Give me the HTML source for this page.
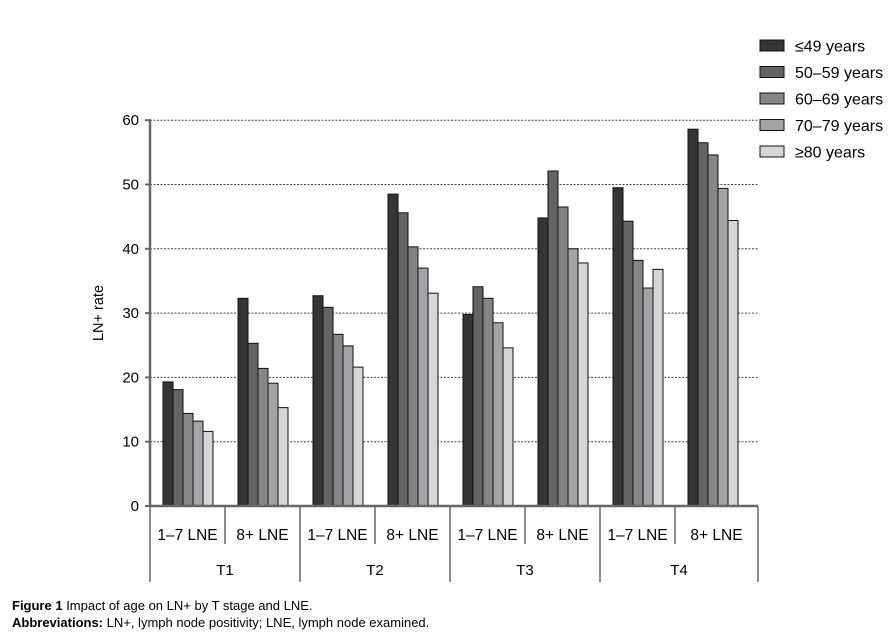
<!DOCTYPE html>
<html><head><meta charset="utf-8"><style>
body{margin:0;background:#fff;width:890px;height:634px;overflow:hidden}
text{font-family:"Liberation Sans",Arial,sans-serif}
</style></head><body>
<svg width="890" height="634" xmlns="http://www.w3.org/2000/svg">
<g id="grid"></g>
<g id="bars"></g>
<g id="axis"></g>
<g id="legend"></g>
<text x="103" y="313" font-size="14.5" text-anchor="middle" transform="rotate(-90 103 313)">LN+ rate</text>
<text x="12" y="610" font-size="13"><tspan font-weight="bold">Figure 1</tspan> Impact of age on LN+ by T stage and LNE.</text>
<text x="12" y="627" font-size="13"><tspan font-weight="bold">Abbreviations:</tspan> LN+, lymph node positivity; LNE, lymph node examined.</text>
</svg>
<script>
const stages = ["T1","T2","T3","T4"];
const lneGroups = ["1–7 LNE","8+ LNE"];
const seriesNames = ["≤49 years","50–59 years","60–69 years","70–79 years","≥80 years"];
const s49 = [19.3,32.3,32.7,48.5,29.8,44.8,49.5,58.6];
const s50 = [18.1,25.3,30.9,45.6,34.1,52.1,44.3,56.5];
const s60 = [14.4,21.4,26.7,40.3,32.3,46.5,38.2,54.6];
const s70 = [13.2,19.1,24.9,37.0,28.5,40.0,33.9,49.4];
const s80 = [11.6,15.3,21.6,33.1,24.6,37.8,36.8,44.4];
const yTicks = [0,10,20,30,40,50,60];
const series=[s49,s50,s60,s70,s80];
const colors=["#353535","#646464","#868686","#a4a4a8","#d6d6d6"];
const NS="http://www.w3.org/2000/svg";
const X0=150,GW=75,XEND=758,Y0=506,PY=6.43;
const y=v=>Y0-v*PY;
const gx=i=>X0+i*GW;
function mk(t,a,p){const e=document.createElementNS(NS,t);for(const k in a)e.setAttribute(k,a[k]);p.appendChild(e);return e;}
const grid=document.getElementById('grid'),bars=document.getElementById('bars'),axis=document.getElementById('axis'),leg=document.getElementById('legend');
yTicks.forEach(t=>{
 if(t>0){const l=mk('line',{x1:X0,x2:XEND,y1:y(t),y2:y(t),stroke:'#444','stroke-width':1,'stroke-dasharray':'2,1.5'},grid);
 
 }
 const tk=mk('line',{x1:X0-5,x2:X0,y1:y(t),y2:y(t),stroke:'#666','stroke-width':2},axis);
 
 
 const tx=mk('text',{x:X0-11,y:y(t)+5,'font-size':15,'text-anchor':'end'},axis);tx.textContent=t;
 
 
});
for(let g=0;g<8;g++){
 series.forEach((s,k)=>{
  const r=mk('rect',{x:gx(g)+13+k*10,y:y(s[g]),width:10,height:s[g]*PY,fill:colors[k],stroke:'#111','stroke-width':1},bars);
  
  
 });
 const cx=(g<7)?gx(g)+GW/2:(gx(7)+XEND)/2;
 const lt=mk('text',{x:cx,y:540,'font-size':15.5,'text-anchor':'middle'},axis);lt.textContent=lneGroups[g%2];
 
 
 if(g%2===1){const sl=mk('line',{x1:gx(g),x2:gx(g),y1:Y0,y2:544,stroke:'#666','stroke-width':1.5},axis);
 
 }
}
for(let s=0;s<=4;s++){
 const xx=s<4?gx(s*2):XEND;
 const sl=mk('line',{x1:xx,x2:xx,y1:Y0,y2:582,stroke:'#666','stroke-width':1.5},axis);
 
 
 if(s<4){const e=s<3?gx(s*2+2):XEND;
 const st=mk('text',{x:(xx+e)/2,y:575,'font-size':15,'text-anchor':'middle'},axis);st.textContent=stages[s];
 
 }
}
const ya=mk('line',{x1:X0,x2:X0,y1:y(60)-1,y2:Y0,stroke:'#666','stroke-width':2.5},axis);


const xa=mk('line',{x1:X0,x2:XEND,y1:Y0,y2:Y0,stroke:'#666','stroke-width':2.5},axis);


seriesNames.forEach((n,k)=>{
 const yy=40+k*26.5;
 const r=mk('rect',{x:760,y:yy,width:24,height:11,fill:colors[k],stroke:'#111','stroke-width':1},leg);
 
 
 const t=mk('text',{x:795,y:yy+11.5,'font-size':16},leg);t.textContent=n;
 
 
});
</script>
</body></html>
